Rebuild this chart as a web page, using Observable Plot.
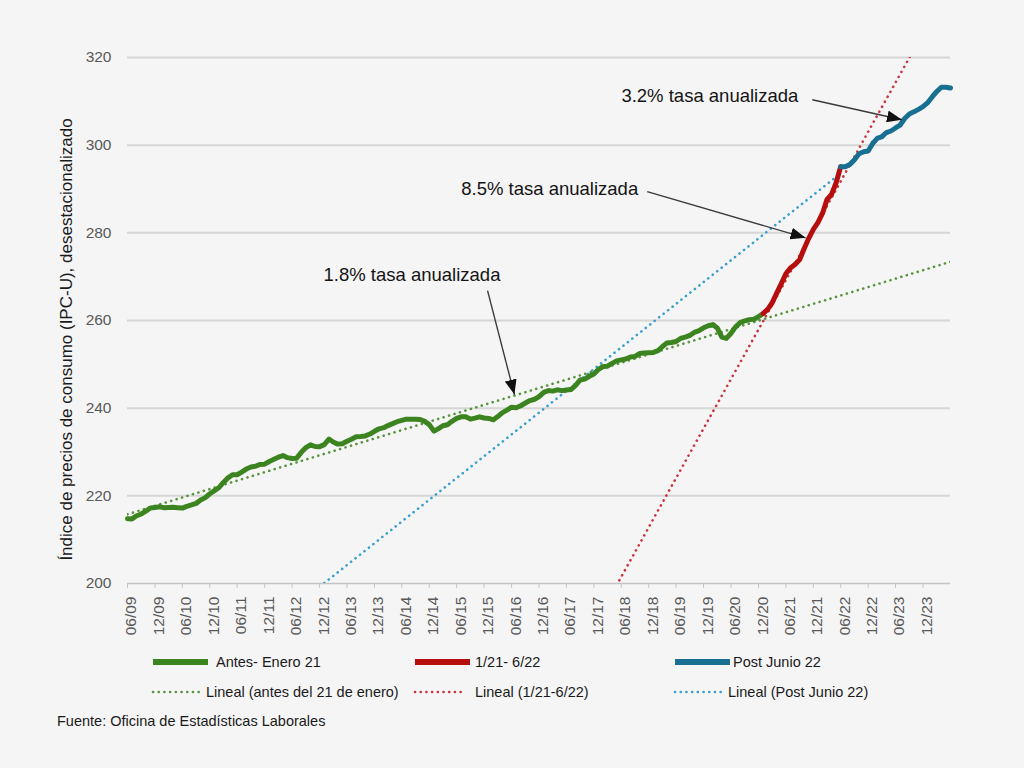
<!DOCTYPE html>
<html>
<head>
<meta charset="utf-8">
<script src="https://cdn.jsdelivr.net/npm/d3@7"></script>
<script src="https://cdn.jsdelivr.net/npm/@observablehq/plot@0.6"></script>
<style>
  html, body { margin: 0; padding: 0; background: #f5f5f5; }
  body { width: 1024px; height: 768px; position: relative; overflow: hidden;
         font-family: "Liberation Sans", Arial, sans-serif; }
  #chart { position: absolute; left: 0; top: 0; }
  #overlay { position: absolute; left: 0; top: 0; pointer-events: none; }
</style>
</head>
<body>
<div id="chart"></div>
<svg id="overlay" width="1024" height="768"></svg>
<script>
// ---------- DATA ----------
// IPC-U desestacionalizado, mensual
const antesStart = "2009-06";
const antesValues = [
  214.79, 214.73, 215.45, 215.86, 216.51, 217.23, 217.35,
  217.49, 217.28, 217.35, 217.40, 217.29, 217.20, 217.61, 217.92, 218.28, 219.04, 219.59, 220.47,
  221.19, 221.90, 223.05, 224.09, 224.81, 224.81, 225.40, 226.11, 226.60, 226.75, 227.17, 227.22,
  227.84, 228.33, 228.81, 229.19, 228.71, 228.52, 228.59, 229.92, 231.02, 231.64, 231.25, 231.22,
  231.68, 232.94, 232.28, 231.80, 231.89, 232.45, 232.90, 233.46, 233.54, 233.67, 234.10, 234.72,
  235.29, 235.55, 236.03, 236.47, 236.92, 237.23, 237.50, 237.46, 237.48, 237.43, 236.98, 236.25,
  234.75, 235.34, 235.98, 236.22, 237.00, 237.66, 238.03, 238.03, 237.50, 237.73, 238.02, 237.76,
  237.65, 237.34, 238.08, 238.99, 239.56, 240.22, 240.10, 240.55, 241.18, 241.74, 242.03, 242.64,
  243.62, 244.01, 243.89, 244.19, 244.00, 244.16, 244.24, 245.18, 246.44, 246.63, 247.28, 247.81,
  248.86, 249.53, 249.58, 250.23, 250.79, 251.02, 251.21, 251.66, 251.82, 252.47, 252.58, 252.64,
  252.72, 253.12, 254.02, 254.89, 254.98, 255.21, 255.90, 256.22, 256.59, 257.31, 257.70, 258.34,
  258.80, 259.07, 258.30, 256.21, 255.91, 257.09, 258.55, 259.50, 259.93, 260.20, 260.29, 260.88,
  261.60
];
const medioStart = "2021-01";
const medioValues = [
  261.60, 262.60, 264.00, 266.24, 268.36, 270.67, 271.99, 272.78, 273.89, 276.43, 278.80, 280.81,
  282.39, 284.54, 287.55, 288.76, 291.36, 295.09
];
const postStart = "2022-06";
const postValues = [
  295.09, 295.07, 295.61, 296.68, 298.04, 298.51, 298.65,
  300.45, 301.61, 301.89, 302.88, 303.23, 303.92, 304.55, 306.09, 307.11, 307.60, 308.17, 308.80,
  309.69, 311.05, 312.23, 313.21, 313.23, 313.05
];

// Líneas de tendencia (extremos)
const trendAntesDates = ["2009-06-01", "2024-06-01"];
const trendAntesValues = [215.8, 273.4];
const trendMedioDates = ["2018-05-01", "2024-01-01"];
const trendMedioValues = [199.6, 327.5];
const trendPostDates = ["2013-01-01", "2022-06-01"];
const trendPostValues = [200.1, 293.6];

// Ejes
const xDomain = ["2009-06-01", "2024-06-01"];
const yDomain = [200, 320];
const yTicks = [200, 220, 240, 260, 280, 300, 320];
const tickLabels = ["06/09","12/09","06/10","12/10","06/11","12/11","06/12","12/12","06/13","12/13",
  "06/14","12/14","06/15","12/15","06/16","12/16","06/17","12/17","06/18","12/18","06/19","12/19",
  "06/20","12/20","06/21","12/21","06/22","12/22","06/23","12/23"];

// Anotaciones
const annotTexts = ["1.8% tasa anualizada", "8.5% tasa anualizada", "3.2% tasa anualizada"];
const annotDates = ["2012-12-27", "2015-07-02", "2018-06-02"];
const annotValues = [270.3, 289.9, 311.3];
const arrowFromDates = ["2015-12-24", "2018-11-21", "2021-11-24"];
const arrowFromValues = [266.8, 289.4, 310.35];
const arrowToDates = ["2016-06-20", "2021-10-10", "2023-07-14"];
const arrowToValues = [243.1, 278.86, 305.8];

const yTitle = "Índice de precios de consumo (IPC-U), desestacionalizado";
const legendLabels = ["Antes- Enero 21", "1/21- 6/22", "Post Junio 22",
  "Lineal (antes del 21 de enero)", "Lineal (1/21-6/22)", "Lineal (Post Junio 22)"];
const caption = "Fuente: Oficina de Estadísticas Laborales";

// ---------- STYLE ----------
const GREEN = "#3c8420", RED = "#b60d0d", BLUE = "#186f92";
const GREEN_DOT = "#5a9440", RED_DOT = "#c8363d", BLUE_DOT = "#3a9fcd";
const FONT = "'Liberation Sans', Arial, sans-serif";

// ---------- BUILD ----------
const parseD = s => new Date(s + "T00:00:00Z");
function monthly(start, vals) {
  const [yy, mm] = start.split("-").map(Number);
  return vals.map((v, i) => ({date: new Date(Date.UTC(yy, mm - 1 + i, 1)), value: v}));
}
const pairs = (ds, vs) => ds.map((d, i) => ({date: parseD(d), value: vs[i]}));
const antes = monthly(antesStart, antesValues);
const medio = monthly(medioStart, medioValues);
const post = monthly(postStart, postValues);
const trendAntes = pairs(trendAntesDates, trendAntesValues);
const trendMedio = pairs(trendMedioDates, trendMedioValues);
const trendPost = pairs(trendPostDates, trendPostValues);
const tickDates = tickLabels.map(s => new Date(Date.UTC(2000 + +s.slice(3), +s.slice(0, 2) - 1, 1)));
const annots = annotTexts.map((t, i) => ({text: t, date: parseD(annotDates[i]), value: annotValues[i]}));
const arrows = arrowFromDates.map((d, i) => ({
  x1: parseD(d), y1: arrowFromValues[i], x2: parseD(arrowToDates[i]), y2: arrowToValues[i]}));

const dotted = {strokeWidth: 2.6, strokeDasharray: "0.1 5.6", strokeLinecap: "round", clip: true};
const solid = {strokeWidth: 5, strokeLinejoin: "round", strokeLinecap: "round"};

const chart = Plot.plot({
  width: 1024, height: 640,
  marginLeft: 127, marginRight: 74, marginTop: 57, marginBottom: 57,
  style: {background: "transparent", fontFamily: FONT, overflow: "visible"},
  x: {type: "utc", domain: xDomain.map(parseD)},
  y: {domain: yDomain},
  marks: [
    Plot.ruleY(yTicks.slice(1), {stroke: "#d6d6d6", strokeWidth: 2}),
    Plot.ruleY([yDomain[0]], {stroke: "#c4c4c4", strokeWidth: 1.5}),
    Plot.axisX({ticks: tickDates, tickSize: 5, tickFormat: () => "", stroke: "#c4c4c4", label: null}),
    Plot.axisX({ticks: tickDates, tickSize: 0, tickPadding: 13, tickRotate: -90, dx: 4,
      tickFormat: d3.utcFormat("%m/%y"), fontSize: 15.5, fill: "#595959", label: null}),
    Plot.axisY({ticks: yTicks, tickSize: 0, tickPadding: 16, fontSize: 15.5, fill: "#595959", label: null}),
    Plot.line(trendPost, {x: "date", y: "value", stroke: BLUE_DOT, ...dotted}),
    Plot.line(trendMedio, {x: "date", y: "value", stroke: RED_DOT, ...dotted}),
    Plot.line(trendAntes, {x: "date", y: "value", stroke: GREEN_DOT, ...dotted}),
    Plot.line(antes, {x: "date", y: "value", stroke: GREEN, ...solid}),
    Plot.line(medio, {x: "date", y: "value", stroke: RED, ...solid}),
    Plot.line(post, {x: "date", y: "value", stroke: BLUE, ...solid}),
    Plot.link(arrows, {x1: "x1", y1: "y1", x2: "x2", y2: "y2", stroke: "#3a3a3a", strokeWidth: 1.4}),
    Plot.text(annots, {x: "date", y: "value", text: "text", textAnchor: "start", fontSize: 18.5, fill: "#141414"}),
    Plot.text([yTitle], {text: d => d, frameAnchor: "left", textAnchor: "middle", rotate: -90, dx: -61, dy: 19,
      fontSize: 17, fill: "#1a1a1a"})
  ]
});
document.getElementById("chart").appendChild(chart);

// Filled arrowheads on annotation links
const svg = d3.select(chart.tagName.toLowerCase() === "svg" ? chart : chart.querySelector("svg"));
svg.append("defs").append("marker")
  .attr("id", "ahead").attr("viewBox", "0 0 15 12").attr("refX", 15).attr("refY", 6)
  .attr("markerWidth", 15).attr("markerHeight", 12).attr("markerUnits", "userSpaceOnUse")
  .attr("orient", "auto")
  .append("path").attr("d", "M0,0L15,6L0,12Z").attr("fill", "#111");
svg.selectAll('g[aria-label="link"] path').attr("marker-end", "url(#ahead)");

// ---------- LEGEND + CAPTION ----------
const ov = d3.select("#overlay");
const legColors = [GREEN, RED, BLUE, GREEN_DOT, RED_DOT, BLUE_DOT];
const colX = [153, 415, 675];
const rowY = [662, 692];
const labelX = [[216, 475, 733], [206, 475, 728]];
const swLen = [55, 47];
legendLabels.forEach((lab, i) => {
  const r = Math.floor(i / 3), c = i % 3;
  const ln = ov.append("line")
    .attr("x1", colX[c]).attr("x2", colX[c] + swLen[r])
    .attr("y1", rowY[r]).attr("y2", rowY[r])
    .attr("stroke", legColors[i]);
  if (r === 0) ln.attr("stroke-width", 6);
  else ln.attr("stroke-width", 2.6).attr("stroke-dasharray", "0.1 5.6").attr("stroke-linecap", "round");
  ov.append("text").attr("x", labelX[r][c]).attr("y", rowY[r]).attr("dy", "0.35em")
    .attr("font-family", FONT).attr("font-size", 14.5).attr("fill", "#1a1a1a").text(lab);
});
ov.append("text").attr("x", 57).attr("y", 721).attr("dy", "0.35em")
  .attr("font-family", FONT).attr("font-size", 14.5).attr("fill", "#1a1a1a").text(caption);
</script>
</body>
</html>
